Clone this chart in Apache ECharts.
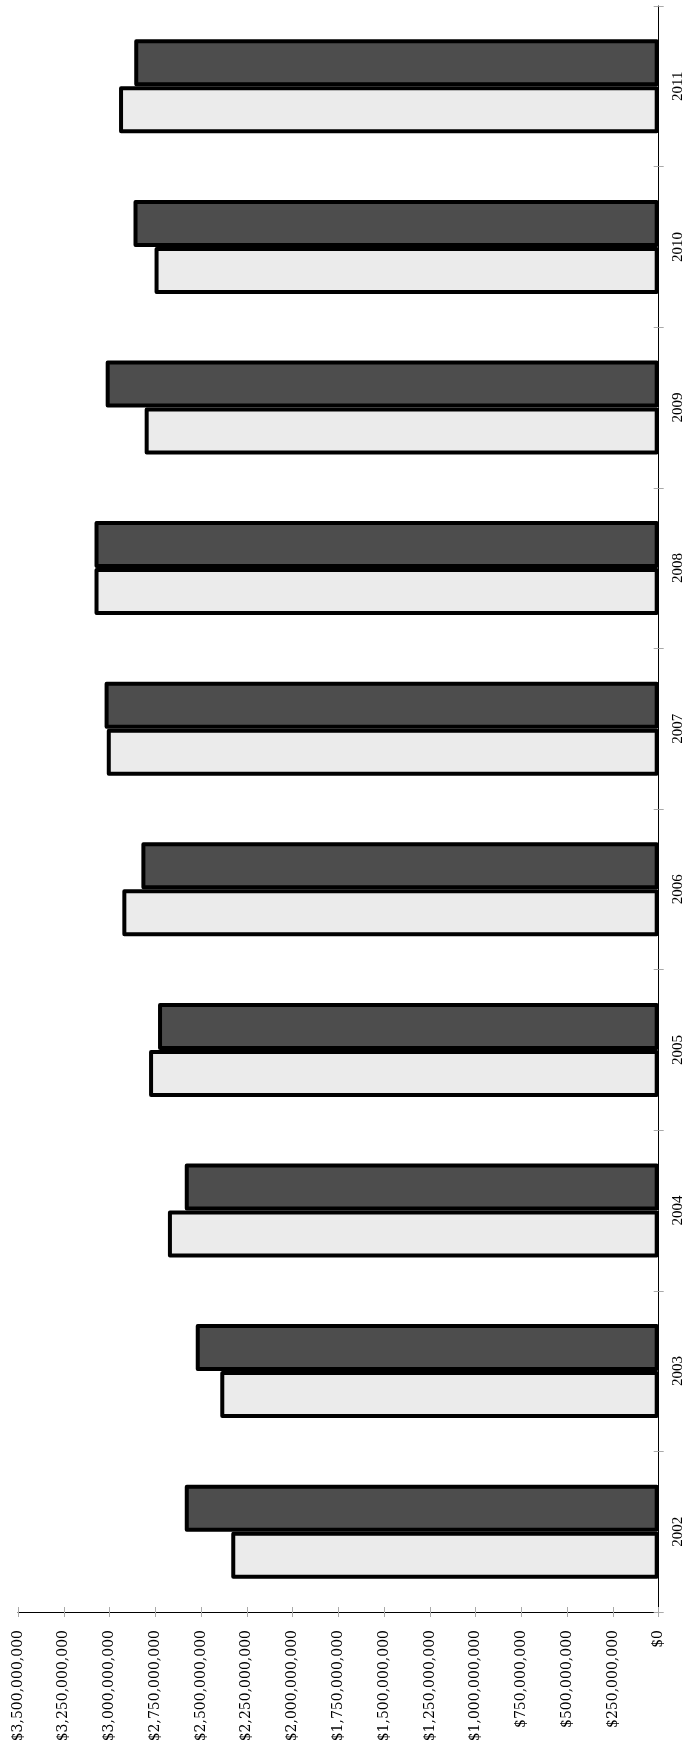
<!DOCTYPE html>
<html><head><meta charset="utf-8">
<script src="https://cdn.jsdelivr.net/npm/echarts@6/dist/echarts.min.js"></script>
<style>html,body{margin:0;padding:0;background:#fff}#c{width:683px;height:1743px}</style>
</head><body><div id="c"></div>
<script>
const years = ['2002','2003','2004','2005','2006','2007','2008','2009','2010','2011'];
const darkSeries = [2589000000, 2529000000, 2589000000, 2735000000, 2826000000, 3027000000, 3082000000, 3021000000, 2869000000, 2865000000];
const lightSeries = [2335000000, 2395000000, 2681000000, 2784000000, 2930000000, 3015000000, 3082000000, 2808000000, 2754000000, 2948000000];
const valueTickLabels = ['$0','$250,000,000','$500,000,000','$750,000,000','$1,000,000,000','$1,250,000,000','$1,500,000,000','$1,750,000,000','$2,000,000,000','$2,250,000,000','$2,500,000,000','$2,750,000,000','$3,000,000,000','$3,250,000,000','$3,500,000,000'];
const tickStep = 250000000;
const maxValue = 3500000000;

const chart = echarts.init(document.getElementById('c'), null, {renderer: 'canvas'});
const tickColor = '#aaaaaa';
const valueAxisBase = {
  type: 'value', inverse: true, min: 0, max: maxValue, interval: tickStep,
  position: 'bottom', splitLine: {show: false}
};
const catAxisBase = {
  type: 'category', data: years, position: 'right', boundaryGap: true
};
chart.setOption({
  animation: false,
  backgroundColor: '#ffffff',
  grid: {left: 18, right: 24.3, top: 6, bottom: 131, containLabel: false, outerBoundsMode: 'none'},
  xAxis: [
    Object.assign({}, valueAxisBase, {
      axisLine: {show: true, lineStyle: {color: '#000', width: 1}},
      axisTick: {show: true, inside: false, length: 5, lineStyle: {color: tickColor}},
      axisLabel: {
        show: true, rotate: 90, margin: 18, color: '#000',
        fontFamily: 'DejaVu Serif', fontSize: 14,
        formatter: v => valueTickLabels[Math.round(v / tickStep)]
      }
    }),
    Object.assign({}, valueAxisBase, {
      axisLine: {show: false},
      axisTick: {show: true, inside: true, length: 5, lineStyle: {color: tickColor}},
      axisLabel: {show: false}
    })
  ],
  yAxis: [
    Object.assign({}, catAxisBase, {
      axisLine: {show: true, lineStyle: {color: '#000', width: 1}},
      axisTick: {show: true, inside: false, length: 5, lineStyle: {color: tickColor}},
      axisLabel: {show: true, rotate: 90, margin: 12, color: '#000', fontFamily: 'Liberation Serif', fontSize: 15}
    }),
    Object.assign({}, catAxisBase, {
      axisLine: {show: false},
      axisTick: {show: true, inside: true, length: 5, lineStyle: {color: tickColor}},
      axisLabel: {show: false}
    })
  ],
  series: [
    {
      type: 'bar', name: 'dark', data: darkSeries, xAxisIndex: 0, yAxisIndex: 0,
      barWidth: 47, barGap: '0%',
      itemStyle: {color: '#4d4d4d', borderColor: '#000', borderWidth: 4, borderJoin: 'round'}
    },
    {
      type: 'bar', name: 'light', data: lightSeries, xAxisIndex: 0, yAxisIndex: 0,
      barWidth: 47, barGap: '0%',
      itemStyle: {color: '#ebebeb', borderColor: '#000', borderWidth: 4, borderJoin: 'round'}
    }
  ]
});
</script>
</body></html>
